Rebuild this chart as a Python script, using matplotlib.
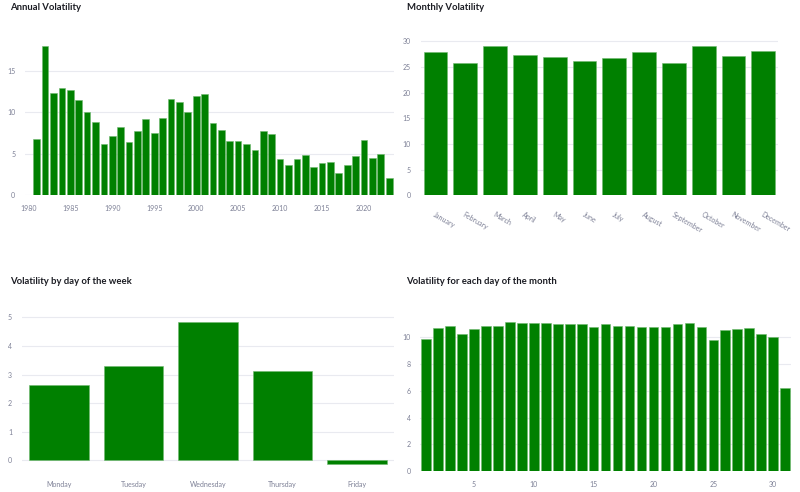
import matplotlib
matplotlib.use("Agg")
import matplotlib.pyplot as plt

plt.rcParams['font.family'] = ['Lato', 'DejaVu Sans']

# annual volatility, 1981-2023
years = list(range(1981, 2024))
annual_vol = [6.78, 17.97, 12.31, 12.88, 12.68, 11.47, 10.07, 8.78, 6.18, 7.18,
              8.22, 6.42, 7.78, 9.19, 7.54, 9.31, 11.59, 11.23, 10.03, 11.95,
              12.15, 8.74, 7.86, 6.50, 6.58, 6.18, 5.42, 7.74, 7.38, 4.41,
              3.69, 4.41, 4.81, 3.45, 3.89, 4.01, 2.73, 3.61, 4.77, 6.70,
              4.53, 4.97, 2.09]

months = ['January', 'February', 'March', 'April', 'May', 'June', 'July',
          'August', 'September', 'October', 'November', 'December']
monthly_vol = [27.86, 25.78, 29.03, 27.34, 26.95, 26.10, 26.69, 27.92,
               25.78, 29.03, 27.08, 28.12]

weekdays = ['Monday', 'Tuesday', 'Wednesday', 'Thursday', 'Friday']
weekday_vol = [2.63, 3.29, 4.84, 3.11, -0.12]

days = list(range(1, 32))
day_vol = [9.90, 10.72, 10.82, 10.22, 10.62, 10.82, 10.82, 11.12, 11.09, 11.09,
           11.09, 11.02, 10.95, 10.97, 10.80, 10.95, 10.82, 10.82, 10.77, 10.77,
           10.75, 11.00, 11.04, 10.75, 9.80, 10.52, 10.65, 10.67, 10.25, 10.00,
           6.22]

GREEN = '#008000'
EDGE = '#6fb86f'
GRID = '#e9eaf0'
TICK = '#7d8096'
TITLE = '#1c1d24'


def style(ax):
    for s in ax.spines.values():
        s.set_visible(False)
    ax.grid(axis='y', color=GRID, linewidth=0.8)
    ax.set_axisbelow(True)
    ax.tick_params(length=0, labelsize=5.0, colors=TICK, pad=7)


fig = plt.figure(figsize=(8, 4.92), dpi=100)

ax1 = fig.add_axes([0.03125, 0.603, 0.461, 0.3197])
ax1.bar(years, annual_vol, width=0.8, color=GREEN, edgecolor=EDGE, linewidth=0.4)
ax1.set_xlim(1979.6, 2023.55)
ax1.set_ylim(0, 18.93)
ax1.set_xticks(range(1980, 2021, 5))
ax1.set_yticks([0, 5, 10, 15])
style(ax1)

ax2 = fig.add_axes([0.5258, 0.603, 0.447, 0.3197])
ax2.bar(range(len(months)), monthly_vol, width=0.8, color=GREEN, edgecolor=EDGE, linewidth=0.4)
ax2.set_xlim(-0.5, 11.5)
ax2.set_ylim(0, 30.66)
ax2.set_yticks(range(0, 31, 5))
ax2.set_xticks(range(len(months)))
ax2.set_xticklabels(months, rotation=-30, ha='left', va='top', rotation_mode='anchor')
style(ax2)
ax2.tick_params(axis='x', pad=11)

ax3 = fig.add_axes([0.02725, 0.0427, 0.4656, 0.3171])
ax3.bar(range(len(weekdays)), weekday_vol, width=0.8, color=GREEN, edgecolor=EDGE, linewidth=0.4)
ax3.set_xlim(-0.5, 4.5)
ax3.set_ylim(-0.37, 5.08)
ax3.set_yticks(range(0, 6))
ax3.set_xticks(range(len(weekdays)))
ax3.set_xticklabels(weekdays)
style(ax3)

ax4 = fig.add_axes([0.5253, 0.0421, 0.4635, 0.3177])
ax4.bar(days, day_vol, width=0.8, color=GREEN, edgecolor=EDGE, linewidth=0.4)
ax4.set_xlim(0.5, 31.5)
ax4.set_ylim(0, 11.66)
ax4.set_yticks(range(0, 11, 2))
ax4.set_xticks(range(5, 31, 5))
style(ax4)

fig.text(10 / 800, 1 - 7 / 492, 'Annual Volatility', fontsize=6.8, fontweight='bold',
         color=TITLE, va='center', ha='left')
fig.text(407 / 800, 1 - 7 / 492, 'Monthly Volatility', fontsize=6.8, fontweight='bold',
         color=TITLE, va='center', ha='left')
fig.text(10 / 800, 1 - 282 / 492, 'Volatility by day of the week', fontsize=6.8,
         fontweight='bold', color=TITLE, va='center', ha='left')
fig.text(406 / 800, 1 - 282 / 492, 'Volatility for each day of the month', fontsize=6.8,
         fontweight='bold', color=TITLE, va='center', ha='left')

fig.savefig('out.png', dpi=100)
